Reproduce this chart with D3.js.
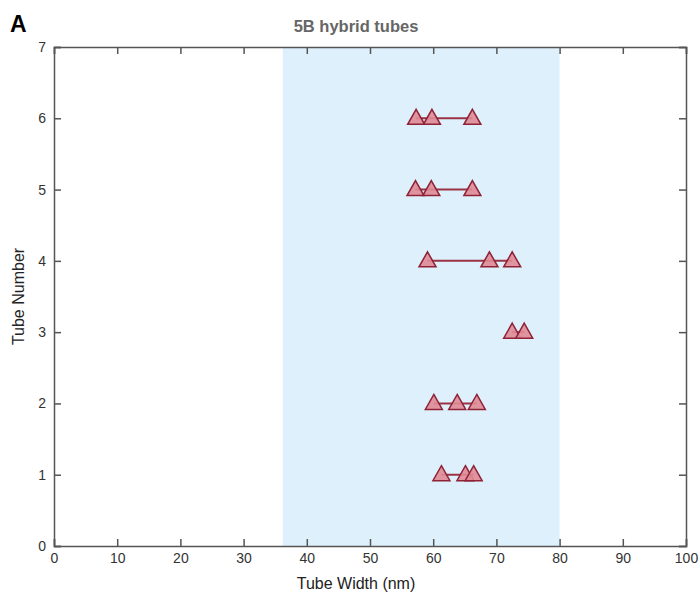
<!DOCTYPE html>
<html lang="en">
<head>
  <meta charset="UTF-8">
  <title>5B hybrid tubes</title>
  <script src="https://cdnjs.cloudflare.com/ajax/libs/d3/7.8.5/d3.min.js"></script>
  <style>
    body { margin: 0; background: #fff; }
    text { font-family: 'Liberation Sans', Arial, sans-serif; }
  </style>
</head>
<body>
<script>
  // tube widths (nm) measured per tube
  const tubeNumbers = [1, 2, 3, 4, 5, 6];
  const tubeWidths = [
    [61.3, 65.1, 66.4],
    [60.1, 63.8, 66.9],
    [72.5, 74.4],
    [59.1, 68.9, 72.5],
    [57.2, 59.7, 66.2],
    [57.3, 59.8, 66.2]
  ];
  const bandRange = [36.2, 80];
  const xTicks = [0, 10, 20, 30, 40, 50, 60, 70, 80, 90, 100];
  const yTicks = [0, 1, 2, 3, 4, 5, 6, 7];

  const W = 699, H = 592;
  const margin = { top: 47, right: 13, bottom: 46, left: 54 };

  const svg = d3.select("body").append("svg")
    .attr("width", W)
    .attr("height", H);

  const x = d3.scaleLinear().domain([0, 100]).range([margin.left, W - margin.right]);
  const y = d3.scaleLinear().domain([0, 7]).range([H - margin.bottom, margin.top]);

  // shaded band
  svg.append("rect")
    .attr("x", x(bandRange[0]))
    .attr("y", y(7))
    .attr("width", x(bandRange[1]) - x(bandRange[0]))
    .attr("height", y(0) - y(7))
    .attr("fill", "#dff0fd");

  const axisColor = "#555";
  const tickLen = 7;

  // axes with inward ticks
  const gx = svg.append("g")
    .attr("transform", `translate(0,${y(0)})`)
    .call(d3.axisBottom(x).tickValues(xTicks).tickSize(-tickLen).tickPadding(7).tickFormat(d3.format("d")));
  const gxTop = svg.append("g")
    .attr("transform", `translate(0,${y(7)})`)
    .call(d3.axisTop(x).tickValues(xTicks).tickSize(-tickLen).tickFormat(""));
  const gy = svg.append("g")
    .attr("transform", `translate(${x(0)},0)`)
    .call(d3.axisLeft(y).tickValues(yTicks).tickSize(-tickLen).tickPadding(8).tickFormat(d3.format("d")));
  const gyRight = svg.append("g")
    .attr("transform", `translate(${x(100)},0)`)
    .call(d3.axisRight(y).tickValues(yTicks).tickSize(-tickLen).tickFormat(""));

  [gx, gxTop, gy, gyRight].forEach(g => {
    g.select(".domain").attr("stroke", axisColor).attr("stroke-width", 1.5);
    g.selectAll(".tick line").attr("stroke", axisColor).attr("stroke-width", 1.5);
    g.selectAll(".tick text")
      .attr("fill", "#333")
      .style("font-size", "14px")
      .style("font-family", "'Liberation Sans', Arial, sans-serif");
  });

  // connecting lines
  const lineColor = "#9a3444";
  tubeNumbers.forEach((n, i) => {
    const ws = tubeWidths[i];
    svg.append("line")
      .attr("x1", x(d3.min(ws)))
      .attr("x2", x(d3.max(ws)))
      .attr("y1", y(n))
      .attr("y2", y(n))
      .attr("stroke", lineColor)
      .attr("stroke-width", 2);
  });

  // triangles
  const pts = [];
  tubeNumbers.forEach((n, i) => tubeWidths[i].forEach(w => pts.push({ n, w })));
  const tri = "M0,-8 L8.5,7 L-8.5,7 Z";
  svg.selectAll(".pt")
    .data(pts)
    .enter().append("path")
    .attr("class", "pt")
    .attr("d", tri)
    .attr("transform", d => `translate(${x(d.w)},${y(d.n) - 1})`)
    .attr("fill", "#e08a96")
    .attr("fill-opacity", 0.9)
    .attr("stroke", "#8e2236")
    .attr("stroke-width", 1.5)
    .attr("stroke-linejoin", "miter");

  // titles and labels
  svg.append("text")
    .attr("x", 356).attr("y", 32)
    .attr("text-anchor", "middle")
    .attr("fill", "#666")
    .style("font-size", "16.5px")
    .style("font-weight", "bold")
    .text("5B hybrid tubes");

  svg.append("text")
    .attr("x", 10).attr("y", 32)
    .attr("fill", "#000")
    .style("font-size", "23px")
    .style("font-weight", "bold")
    .text("A");

  svg.append("text")
    .attr("x", 356).attr("y", 589)
    .attr("text-anchor", "middle")
    .attr("fill", "#222")
    .style("font-size", "16px")
    .text("Tube Width (nm)");

  svg.append("text")
    .attr("transform", `translate(24,${(y(0) + y(7)) / 2}) rotate(-90)`)
    .attr("text-anchor", "middle")
    .attr("fill", "#222")
    .style("font-size", "16px")
    .text("Tube Number");
</script>
</body>
</html>
